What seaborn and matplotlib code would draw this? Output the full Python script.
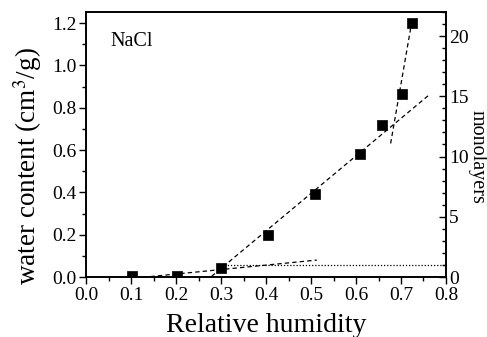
import matplotlib
matplotlib.use("Agg")
import matplotlib.pyplot as plt
import seaborn as sns
import pandas as pd
from matplotlib.ticker import MultipleLocator

sns.set_theme(style="white")
plt.rcParams['font.family'] = ['Liberation Serif', 'DejaVu Serif']
plt.rcParams['mathtext.fontset'] = 'stix'

# data
rh = [0.103, 0.203, 0.300, 0.405, 0.508, 0.609, 0.658, 0.702, 0.724]
water = [0.003, 0.005, 0.043, 0.198, 0.392, 0.581, 0.718, 0.866, 1.198]

fit_low_x = [0.11, 0.513]
fit_low_y = [-0.005, 0.080]
fit_mid_x = [0.279, 0.764]
fit_mid_y = [0.003, 0.863]
fit_high_x = [0.677, 0.724]
fit_high_y = [0.631, 1.206]
mono_x = [0.30, 0.80]
mono_y = [0.057, 0.057]

fig = plt.figure(figsize=(4.87, 3.37), dpi=100)
ax = fig.add_axes([86/487, 60/337, 360/487, 265/337])

df = pd.DataFrame({"rh": rh, "water": water})
dash = (0, (3.5, 2.5))
for fx, fy, ls in [(fit_low_x, fit_low_y, dash), (fit_mid_x, fit_mid_y, dash),
                   (fit_high_x, fit_high_y, dash), (mono_x, mono_y, (0, (1, 1.5)))]:
    sns.lineplot(x=fx, y=fy, ax=ax, color="black", lw=0.9, linestyle=ls, sort=False)

sns.scatterplot(data=df, x="rh", y="water", ax=ax, marker="s", s=48, color="black",
                edgecolor="black", linewidth=0.5, zorder=5)

ax.set_xlim(0, 0.8)
ax.set_ylim(0, 1.252)
ax.xaxis.set_major_locator(MultipleLocator(0.1))
ax.xaxis.set_minor_locator(MultipleLocator(0.05))
ax.yaxis.set_major_locator(MultipleLocator(0.2))
ax.yaxis.set_minor_locator(MultipleLocator(0.1))
ax.xaxis.set_major_formatter(matplotlib.ticker.FormatStrFormatter('%.1f'))
ax.yaxis.set_major_formatter(matplotlib.ticker.FormatStrFormatter('%.1f'))
ax.tick_params(axis='both', which='major', direction='out', length=5, width=1,
               labelsize=14, color='black', labelcolor='black', pad=2)
ax.tick_params(axis='both', which='minor', direction='out', length=3, width=1, color='black')
ax.tick_params(top=False, right=False, which='both')
ax.tick_params(bottom=True, left=True, which='both')
for s in ax.spines.values():
    s.set_color('black')
    s.set_linewidth(1.2)

ax.set_xlabel("Relative humidity", fontsize=20, color='black', labelpad=7)
ax.set_ylabel(r"water content (cm$^3$/g)", fontsize=19.5, color='black')
ax.yaxis.set_label_coords(-0.118, 0.42)
ax.text(0.067, 0.89, "NaCl", transform=ax.transAxes, fontsize=14.5,
        ha='left', va='center', color='black')

ax2 = ax.twinx()
ax2.set_ylim(0, 22.0)
ax2.yaxis.set_major_locator(MultipleLocator(5))
ax2.yaxis.set_minor_locator(MultipleLocator(1))
ax2.tick_params(axis='y', which='major', direction='in', length=5, width=1,
                labelsize=14, color='black', labelcolor='black', pad=2)
ax2.tick_params(axis='y', which='minor', direction='in', length=3, width=1, color='black')
for s in ax2.spines.values():
    s.set_color('black')
    s.set_linewidth(1.2)
ax2.grid(False)
ax.grid(False)
fig.text(477/487, 1 - 157/337, "monolayers", rotation=-90, fontsize=14.5,
         ha='center', va='center', color='black')

fig.savefig("out.png", dpi=100)
